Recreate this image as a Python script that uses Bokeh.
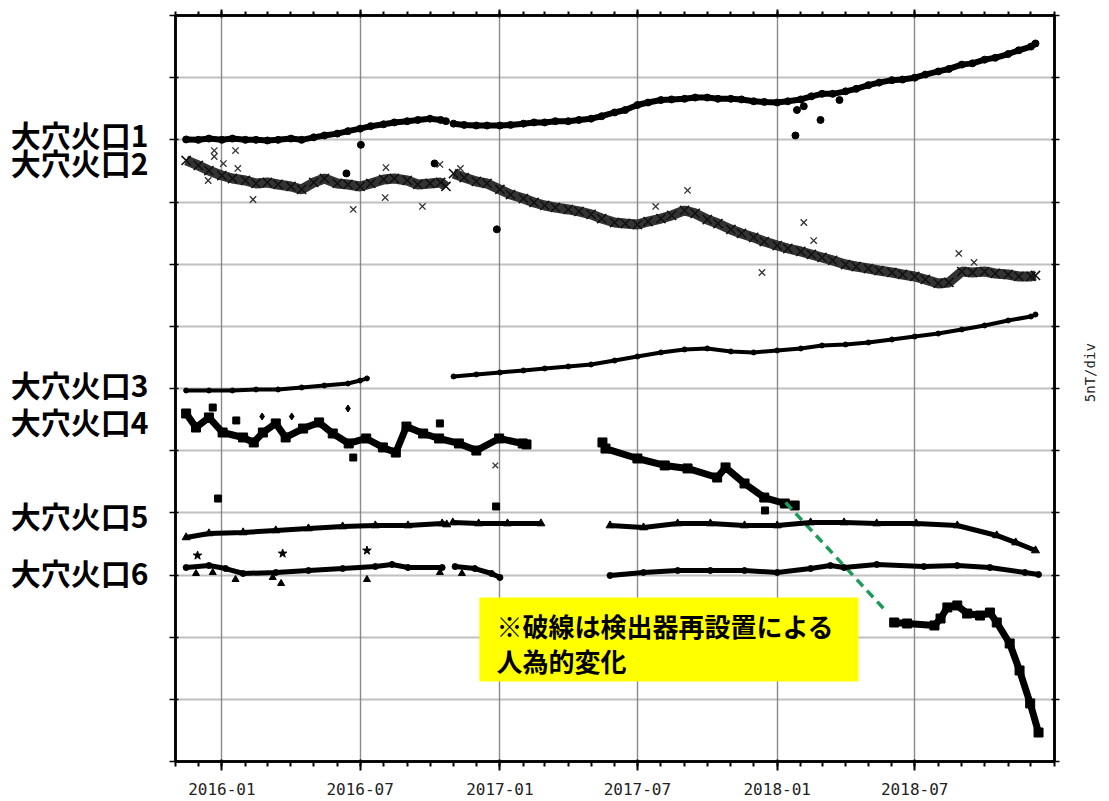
import numpy as np
import pandas as pd
from bokeh.plotting import figure
from bokeh.models import (Range1d, FixedTicker, DatetimeAxis, LinearAxis, DatetimeTickFormatter,
                          Label, BoxAnnotation, ColumnDataSource)
from bokeh.embed import file_html
from bokeh.resources import INLINE

NaN = float("nan")

# ---------------- data (nT, plotted offset scale 0..60, 5 nT/div) ----------------
D12 = ["2015-11-15", "2015-12-01", "2015-12-15",
       "2016-01-01", "2016-01-15", "2016-02-01", "2016-02-15", "2016-03-01", "2016-03-15",
       "2016-04-01", "2016-04-15", "2016-05-01", "2016-05-15", "2016-06-01", "2016-06-15",
       "2016-07-01", "2016-07-15", "2016-08-01", "2016-08-15", "2016-09-01", "2016-09-15",
       "2016-10-01", "2016-10-15", "2016-10-22", "2016-10-27",
       "2016-11-01", "2016-11-15", "2016-12-01", "2016-12-15",
       "2017-01-01", "2017-01-15", "2017-02-01", "2017-02-15", "2017-03-01", "2017-03-15",
       "2017-04-01", "2017-04-15", "2017-05-01", "2017-05-15", "2017-06-01", "2017-06-15",
       "2017-07-01", "2017-07-15", "2017-08-01", "2017-08-15", "2017-09-01", "2017-09-15",
       "2017-10-01", "2017-10-15", "2017-11-01", "2017-11-15", "2017-12-01", "2017-12-15",
       "2018-01-01", "2018-01-15", "2018-02-01", "2018-02-15", "2018-03-01", "2018-03-15",
       "2018-04-01", "2018-04-15", "2018-05-01", "2018-05-15", "2018-06-01", "2018-06-15",
       "2018-07-01", "2018-07-15", "2018-08-01", "2018-08-15", "2018-09-01", "2018-09-15",
       "2018-10-01", "2018-10-15", "2018-11-01", "2018-11-15", "2018-12-01", "2018-12-07"]

s1_vals = [50.03, 50.0, 50.1,
           50.0, 50.1, 50.0, 50.0, 49.95, 50.0, 50.1, 50.0, 50.2, 50.35, 50.5, 50.7,
           50.9, 51.1, 51.25, 51.4, 51.5, 51.6, 51.7, 51.6, 51.5, NaN,
           51.3, 51.2, 51.15, 51.15,
           51.15, 51.2, 51.3, 51.4, 51.4, 51.5, 51.5, 51.6, 51.7, 51.9, 52.2, 52.4,
           52.8, 53.0, 53.2, 53.25, 53.3, 53.4, 53.4, 53.3, 53.3, 53.25, 53.1, 53.05,
           53.0, 53.1, 53.25, 53.5, 53.7, 53.7, 53.9, 54.1, 54.4, 54.6, 54.8, 54.85,
           55.0, 55.25, 55.5, 55.7, 56.05, 56.15, 56.45, 56.6, 56.9, 57.2, 57.5, 57.75]

s2_vals = [48.34, 47.94, 47.53,
           47.13, 46.89, 46.73, 46.49, 46.57, 46.41, 46.25, 46.01, 46.57, 46.89, 46.49, 46.41,
           46.25, 46.49, 46.81, 46.89, 46.73, 46.41, 46.49, 46.57, 46.25, NaN,
           47.29, 46.97, 46.65, 46.49,
           46.01, 45.60, 45.28, 44.96, 44.72, 44.56, 44.40, 44.24, 44.0, 43.67, 43.35, 43.27,
           43.19, 43.43, 43.67, 43.92, 44.32, 44.08, 43.59, 43.27, 42.79, 42.47, 42.15, 41.82,
           41.50, 41.26, 41.02, 40.78, 40.54, 40.30, 39.97, 39.81, 39.65, 39.49, 39.33, 39.17,
           39.01, 38.77, 38.45, 38.53, 39.41, 39.33, 39.41, 39.25, 39.17, 39.01, 39.01, 39.09]

s1_out_dates = ["2016-06-13", "2016-07-02", "2016-10-07", "2016-12-28", "2018-01-25",
                "2018-01-27", "2018-02-05", "2018-02-27", "2018-03-24"]
s1_out_vals = [47.3, 49.6, 48.1, 42.8, 50.35, 52.4, 52.7, 51.6, 53.2]

s2_out_dates = ["2015-12-22", "2015-12-22", "2016-01-19", "2016-01-03", "2015-12-14",
                "2016-01-22", "2016-02-11", "2016-06-22", "2016-08-04", "2016-08-03",
                "2016-09-21", "2016-10-14", "2016-11-10", "2017-07-25", "2017-09-05",
                "2017-12-12", "2018-02-05", "2018-02-18", "2018-08-28", "2018-09-17"]
s2_out_vals = [49.14, 48.66, 49.14, 48.09, 46.73, 47.70, 45.20, 44.40, 47.77, 45.36,
               44.64, 48.02, 47.70, 44.64, 45.93, 39.33, 43.35, 41.90, 40.86, 40.14]

s3_dates = ["2015-11-15", "2015-12-15", "2016-01-15", "2016-02-15", "2016-03-15",
            "2016-04-15", "2016-05-15", "2016-06-15", "2016-07-01", "2016-07-10", "2016-09-01",
            "2016-11-01", "2016-12-01", "2017-01-01", "2017-02-01", "2017-03-01", "2017-04-01",
            "2017-05-01", "2017-06-01", "2017-07-01", "2017-08-01", "2017-09-01", "2017-10-01",
            "2017-11-01", "2017-12-01", "2018-01-01", "2018-02-01", "2018-03-01", "2018-04-01",
            "2018-05-01", "2018-06-01", "2018-07-01", "2018-08-01", "2018-09-01", "2018-10-01",
            "2018-11-01", "2018-12-01", "2018-12-07"]
s3_vals = [29.84, 29.84, 29.84, 29.92, 29.92, 30.08, 30.24, 30.40, 30.64, 30.81, NaN,
           30.97, 31.13, 31.29, 31.45, 31.61, 31.77, 31.93, 32.25, 32.57, 32.90, 33.14, 33.22,
           32.98, 32.90, 33.06, 33.22, 33.46, 33.54, 33.70, 33.94, 34.18, 34.42, 34.75, 35.07,
           35.47, 35.79, 35.95]

s4_dates = ["2015-11-15", "2015-11-28", "2015-12-15", "2016-01-02", "2016-01-29", "2016-02-12",
            "2016-02-24", "2016-03-12", "2016-03-25", "2016-04-17", "2016-05-08", "2016-05-26",
            "2016-06-16", "2016-07-09", "2016-07-31", "2016-08-17", "2016-08-31", "2016-09-22",
            "2016-10-13", "2016-11-08", "2016-12-01", "2016-12-31", "2017-01-31", "2017-02-05",
            "2017-03-30",
            "2017-05-16", "2017-05-20", "2017-07-01", "2017-08-06", "2017-09-05", "2017-10-14",
            "2017-10-25", "2017-11-19", "2017-12-15", "2018-01-11", "2018-01-24",
            "2018-03-30",
            "2018-06-04", "2018-06-21", "2018-07-27", "2018-08-04", "2018-08-13", "2018-08-26",
            "2018-09-08", "2018-09-25", "2018-10-08", "2018-10-17", "2018-11-03", "2018-11-16",
            "2018-11-30", "2018-12-11"]
s4_vals = [27.99, 26.86, 27.67, 26.46, 26.06, 25.66, 26.46, 27.19, 26.06, 26.78, 27.27, 26.38,
           25.58, 25.98, 25.26, 24.85, 26.94, 26.38, 25.98, 25.58, 25.01, 25.98, 25.58, 25.50,
           NaN,
           25.66, 25.17, 24.37, 23.81, 23.57, 22.84, 23.65, 22.36, 21.23, 20.75, 20.59,
           NaN,
           11.18, 11.10, 10.94, 11.50, 12.39, 12.55, 11.90, 11.74, 11.98, 11.18, 9.49, 7.32,
           4.67, 2.33]

s4_sq_out_dates = ["2015-12-20", "2016-01-20", "2016-06-22", "2015-12-27", "2016-10-14",
                   "2016-12-27", "2017-12-16"]
s4_sq_out_vals = [28.47, 27.43, 24.45, 21.15, 27.19, 20.51, 20.19]
s4_dm_out_dates = ["2016-02-23", "2016-04-02", "2016-06-15"]
s4_dm_out_vals = [27.75, 27.75, 28.39]
s4_x_out_dates = ["2016-12-26"]
s4_x_out_vals = [23.81]

# artificial step due to sensor re-installation (dashed)
step_dates = ["2018-01-12", "2018-05-26"]
step_vals = [20.83, 11.98]

s5_dates = ["2015-11-15", "2015-12-15", "2016-01-29", "2016-03-12", "2016-04-24", "2016-06-08",
            "2016-07-21", "2016-09-02", "2016-10-17", "2016-10-23", "2016-10-27",
            "2016-10-31", "2016-12-04", "2017-01-11", "2017-02-24", "2017-04-10",
            "2017-05-26", "2017-07-09", "2017-08-23", "2017-10-05", "2017-11-19", "2018-01-01",
            "2018-02-14", "2018-03-30", "2018-05-12", "2018-07-03", "2018-08-26", "2018-10-17",
            "2018-11-11", "2018-12-07"]
s5_vals = [18.02, 18.34, 18.42, 18.58, 18.74, 18.90, 18.98, 18.98, 19.14, 19.06, NaN,
           19.22, 19.14, 19.14, 19.14, NaN,
           18.98, 18.82, 19.14, 19.14, 18.98, 18.98, 19.22, 19.22, 19.14, 19.14, 18.98, 18.18,
           17.61, 16.97]

s6_dates = ["2015-11-15", "2015-12-15", "2016-01-06", "2016-01-29", "2016-03-12", "2016-04-24",
            "2016-06-08", "2016-07-21", "2016-08-12", "2016-09-02", "2016-10-17", "2016-10-27",
            "2016-11-03", "2016-11-29", "2016-12-21", "2017-01-01", "2017-03-15",
            "2017-05-26", "2017-07-09", "2017-08-23", "2017-10-05", "2017-11-19", "2018-01-01",
            "2018-02-14", "2018-03-12", "2018-03-30", "2018-05-12", "2018-07-13", "2018-08-26",
            "2018-10-08", "2018-11-23", "2018-12-11"]
s6_vals = [15.60, 15.76, 15.52, 15.12, 15.20, 15.36, 15.52, 15.68, 15.85, 15.60, 15.60, NaN,
           15.68, 15.52, 15.12, 14.80, NaN,
           14.96, 15.20, 15.36, 15.36, 15.36, 15.20, 15.52, 15.76, 15.60, 15.85, 15.68, 15.76,
           15.60, 15.20, 15.04]

star_out_dates = ["2015-11-30", "2016-03-21", "2016-07-10"]
star_out_vals = [16.57, 16.73, 16.97]
tri_out_dates = ["2015-11-28", "2015-12-20", "2016-01-19", "2016-03-08", "2016-03-19",
                 "2016-07-10", "2016-10-14", "2016-11-12"]
tri_out_vals = [15.12, 15.20, 14.64, 14.80, 14.32, 14.64, 15.20, 15.12]

series_names = ["大穴火口1", "大穴火口2", "大穴火口3", "大穴火口4", "大穴火口5", "大穴火口6"]
name_levels = [50.43, 48.18, 30.40, 27.35, 19.79, 15.28]

note_lines = ["※破線は検出器再設置による", "人為的変化"]
note_box = {"left": "2016-12-05", "right": "2018-04-18", "bottom": 6.43, "top": 13.19}
note_levels = [10.94, 8.12]

tick_dates = ["2016-01-01", "2016-07-01", "2017-01-01", "2017-07-01", "2018-01-01", "2018-07-01"]
tick_format = "%Y-%m"
x_start, x_end = "2015-11-01", "2019-01-01"
y_div = 5.0
y_min, y_max = 0.0, 60.0
unit_label = "5nT/div"
unit_level = 28.9


def ms(d):
    return pd.Timestamp(d).value / 1e6


def src(dates, vals):
    return ColumnDataSource(dict(x=pd.to_datetime(dates), y=np.array(vals, dtype=float)))


p = figure(width=1109, height=801, x_axis_type="datetime", output_backend="svg",
           toolbar_location=None,
           x_range=Range1d(ms(x_start), ms(x_end)), y_range=Range1d(y_min, y_max),
           min_border_left=175, min_border_right=51, min_border_top=15, min_border_bottom=40)
p.background_fill_color = "white"
p.border_fill_color = "white"
p.outline_line_color = "black"
p.outline_line_width = 2.5

major = [ms(d) for d in tick_dates]
minor = [ms(d) for d in pd.date_range(x_start, x_end, freq="MS")]
xt = FixedTicker(ticks=major, minor_ticks=minor)
yt = FixedTicker(ticks=list(np.arange(y_min, y_max + 0.1, y_div)), minor_ticks=[])

bottom_ax = p.below[0]
left_ax = p.left[0]
bottom_ax.ticker = xt
left_ax.ticker = yt
p.xgrid.ticker = xt
p.ygrid.ticker = yt

top_ax = DatetimeAxis(ticker=xt)
right_ax = LinearAxis(ticker=yt)
p.add_layout(top_ax, "above")
p.add_layout(right_ax, "right")

fmt = DatetimeTickFormatter(days=tick_format, months=tick_format, years=tick_format,
                            hours=tick_format, minutes=tick_format)
bottom_ax.formatter = fmt
top_ax.formatter = fmt

for ax in [bottom_ax, top_ax]:
    ax.axis_line_width = 2.5
    ax.major_tick_line_width = 2
    ax.minor_tick_line_width = 2
    ax.major_tick_out = 9
    ax.major_tick_in = 2
    ax.minor_tick_out = 5
    ax.minor_tick_in = 0
bottom_ax.major_label_text_font = "DejaVu Sans Mono"
bottom_ax.major_label_text_font_size = "16px"
bottom_ax.major_label_text_color = "#222222"
bottom_ax.major_label_standoff = 12

top_ax.major_tick_out = 6
top_ax.minor_tick_out = 4

for ax in [top_ax, left_ax, right_ax]:
    ax.major_label_text_color = None
    ax.major_label_text_font_size = "1px"
    ax.major_label_standoff = 0
for ax in [left_ax, right_ax]:
    ax.axis_line_width = 2.5
    ax.major_tick_line_width = 1.5
    ax.major_tick_out = 5
    ax.major_tick_in = 3
    ax.minor_tick_line_color = None
left_ax.major_tick_out = 6

# axis carrying the series names (left)
name_ax = LinearAxis(ticker=FixedTicker(ticks=name_levels, minor_ticks=[]),
                     major_label_overrides={lv: nm for lv, nm in zip(name_levels, series_names)},
                     axis_line_color=None, major_tick_line_color=None, minor_tick_line_color=None,
                     major_label_text_font="Noto Sans CJK JP", major_label_text_font_style="bold",
                     major_label_text_font_size="30px", major_label_text_color="black",
                     major_label_standoff=15)
p.add_layout(name_ax, "left")

# axis carrying the unit label (right)
unit_ax = LinearAxis(ticker=FixedTicker(ticks=[unit_level], minor_ticks=[]),
                     major_label_overrides={unit_level: unit_label},
                     axis_line_color=None, major_tick_line_color=None, minor_tick_line_color=None,
                     major_label_text_font="DejaVu Sans Mono", major_label_text_font_size="14px",
                     major_label_text_color="#222222", major_label_orientation=np.pi / 2,
                     major_label_standoff=25)
p.add_layout(unit_ax, "right")

p.xgrid.grid_line_color = "#8a8a8a"
p.xgrid.grid_line_width = 1.4
p.ygrid.grid_line_color = "#808080"
p.ygrid.grid_line_width = 2
p.ygrid.grid_line_dash = "1 1"

# series 1: circles
a = src(D12, s1_vals)
p.line("x", "y", source=a, line_color="black", line_width=6)
p.scatter("x", "y", source=a, marker="circle", size=7, color="black")
p.scatter("x", "y", source=src(s1_out_dates, s1_out_vals), marker="circle", size=7, color="black")

# series 2: crosses
b = src(D12, s2_vals)
p.line("x", "y", source=b, line_color="#333333", line_width=10)
p.scatter("x", "y", source=b, marker="x", size=13, line_color="#111111", line_width=1.5)
p.scatter("x", "y", source=src(s2_out_dates, s2_out_vals), marker="x", size=9,
          line_color="#333333", line_width=1.3)

# series 3: small dots
c = src(s3_dates, s3_vals)
p.line("x", "y", source=c, line_color="black", line_width=4)
p.scatter("x", "y", source=c, marker="circle", size=5, color="black")

# series 4: squares
d = src(s4_dates, s4_vals)
p.line("x", "y", source=d, line_color="black", line_width=7)
p.scatter("x", "y", source=d, marker="square", size=9, color="black")
p.scatter("x", "y", source=src(s4_sq_out_dates, s4_sq_out_vals), marker="square", size=7, color="black")
p.scatter("x", "y", source=src(s4_dm_out_dates, s4_dm_out_vals), marker="diamond", size=7, color="black")
p.scatter("x", "y", source=src(s4_x_out_dates, s4_x_out_vals), marker="x", size=8,
          line_color="#333333", line_width=1.3)
p.line("x", "y", source=src(step_dates, step_vals), line_color="#1f9a5a", line_width=3.5,
       line_dash="9 6")

# series 5: triangles
e = src(s5_dates, s5_vals)
p.line("x", "y", source=e, line_color="black", line_width=5)
p.scatter("x", "y", source=e, marker="triangle", size=8, color="black")

# series 6
f = src(s6_dates, s6_vals)
p.line("x", "y", source=f, line_color="black", line_width=5)
p.scatter("x", "y", source=f, marker="circle", size=6, color="black")
p.scatter("x", "y", source=src(star_out_dates, star_out_vals), marker="star", size=9, color="black")
p.scatter("x", "y", source=src(tri_out_dates, tri_out_vals), marker="triangle", size=7, color="black")

# note box
p.add_layout(BoxAnnotation(left=ms(note_box["left"]), right=ms(note_box["right"]),
                           bottom=note_box["bottom"], top=note_box["top"],
                           fill_color="#ffff00", fill_alpha=1.0, line_color=None))
for txt, lv in zip(note_lines, note_levels):
    p.add_layout(Label(x=ms(note_box["left"]), y=lv, x_offset=17, text=txt,
                       text_baseline="middle", text_align="left",
                       text_font="Noto Sans CJK JP", text_font_style="bold",
                       text_font_size="26px", text_color="black"))

open("out.html", "w").write(file_html(p, INLINE))
